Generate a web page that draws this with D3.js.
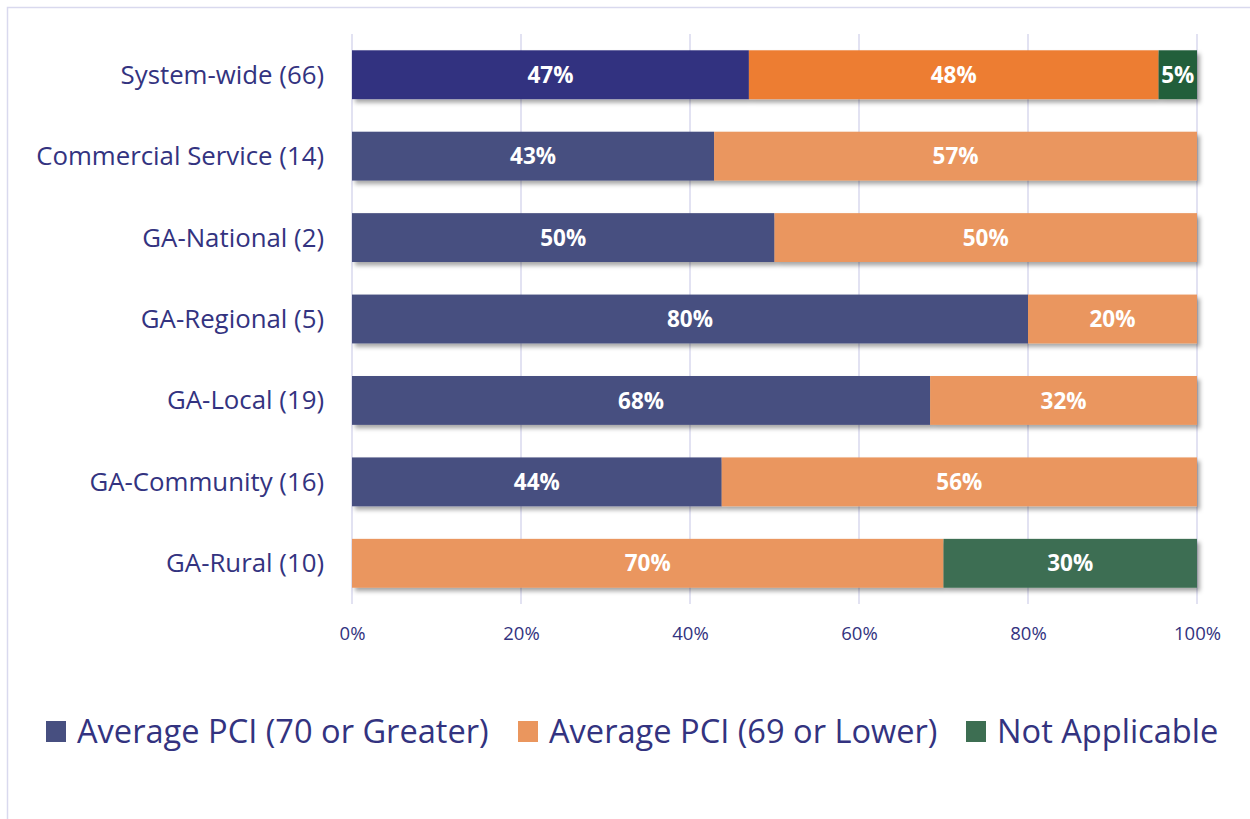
<!DOCTYPE html>
<html><head><meta charset="utf-8">
<script src="https://cdn.jsdelivr.net/npm/d3@7"></script>
<style>html,body{margin:0;padding:0;background:#fff;}svg{display:block;}</style>
</head><body>
<svg id="c" width="1250" height="819"></svg>
<script>
const categories = ["System-wide (66)","Commercial Service (14)","GA-National (2)","GA-Regional (5)","GA-Local (19)","GA-Community (16)","GA-Rural (10)"];
const seriesNames = ["Average PCI (70 or Greater)","Average PCI (69 or Lower)","Not Applicable"];
const countsGreater = [31, 6, 1, 4, 13, 7, 0];
const countsLower   = [32, 8, 1, 1, 6, 9, 7];
const countsNA      = [3, 0, 0, 0, 0, 0, 3];
const totals        = [66, 14, 2, 5, 19, 16, 10];
const tickValues = [0, 0.2, 0.4, 0.6, 0.8, 1.0];

const colorsFirst = ["#333380", "#ED7D31", "#235E3A"];
const colorsRest  = ["#474F80", "#EA965E", "#3D6E52"];
const textColor = "#333380";
const gridColor = "#D9D9EE";
const font = "'Open Sans', Lato, sans-serif";

const svg = d3.select("#c");
const defs = svg.append("defs");
const f = defs.append("filter").attr("id","sh").attr("x","-5%").attr("y","-20%").attr("width","110%").attr("height","160%");
f.append("feDropShadow").attr("dx",3).attr("dy",3.5).attr("stdDeviation",2.2).attr("flood-color","#000").attr("flood-opacity",0.35);

// frame
svg.append("rect").attr("x",7.5).attr("y",7.5).attr("width",1300).attr("height",900)
  .attr("fill","none").attr("stroke",gridColor).attr("stroke-width",1.5);

const x = d3.scaleLinear().domain([0,1]).range([352,1197]);
const y = d3.scaleBand().domain(categories).range([34,604]).paddingInner(0.4).paddingOuter(0.2);

// grid
svg.append("g").selectAll("line").data(tickValues).join("line")
  .attr("x1",d=>x(d)).attr("x2",d=>x(d)).attr("y1",34).attr("y2",604)
  .attr("stroke",gridColor).attr("stroke-width",1.5);

// stacked data
const rows = categories.map((c,i)=>({cat:c, vals:[countsGreater[i]/totals[i], countsLower[i]/totals[i], countsNA[i]/totals[i]], i}));
const stacked = d3.stack().keys([0,1,2]).value((d,k)=>d.vals[k])(rows);

const barG = svg.append("g").attr("filter","url(#sh)");
stacked.forEach((layer,k)=>{
  barG.selectAll(null).data(layer.filter(d=>d[1]-d[0]>0)).join("rect")
    .attr("x",d=>x(d[0])).attr("y",d=>y(d.data.cat))
    .attr("width",d=>x(d[1])-x(d[0])).attr("height",y.bandwidth())
    .attr("fill",d=>(d.data.i===0?colorsFirst:colorsRest)[k]);
});
stacked.forEach((layer,k)=>{
  svg.append("g").selectAll("text").data(layer.filter(d=>d[1]-d[0]>0)).join("text")
    .attr("x",d=>(x(d[0])+x(d[1]))/2).attr("y",d=>y(d.data.cat)+y.bandwidth()/2)
    .attr("dy","0.36em").attr("text-anchor","middle")
    .attr("fill","#fff").attr("font-family",font).attr("font-weight","bold").attr("font-size",22.5)
    .text(d=>Math.round((d[1]-d[0])*100)+"%");
});

// category axis labels
const yAxis = d3.axisLeft(y).tickSize(0).tickPadding(0);
const yg = svg.append("g").attr("transform","translate(324,0)").call(yAxis);
yg.select(".domain").remove();
yg.selectAll("text").attr("fill",textColor).attr("font-family",font).attr("font-size",25.8).attr("dy","0.35em");

// x axis labels
const xAxis = d3.axisBottom(x).tickValues(tickValues).tickFormat(d3.format(".0%")).tickSize(0).tickPadding(0);
const xg = svg.append("g").attr("transform","translate(0,634)").call(xAxis);
xg.select(".domain").remove();
xg.selectAll("text").attr("fill",textColor).attr("font-family",font).attr("font-size",18.5).attr("dy","0.35em");

// legend
const legendX = [46, 518, 966];
const lg = svg.append("g");
seriesNames.forEach((n,k)=>{
  lg.append("rect").attr("x",legendX[k]).attr("y",721).attr("width",20).attr("height",21).attr("fill",colorsRest[k]);
  lg.append("text").attr("x",legendX[k]+31).attr("y",731.5).attr("dy","0.36em")
    .attr("fill",textColor).attr("font-family",font).attr("font-size",32.6).text(n);
});
</script>
</body></html>
